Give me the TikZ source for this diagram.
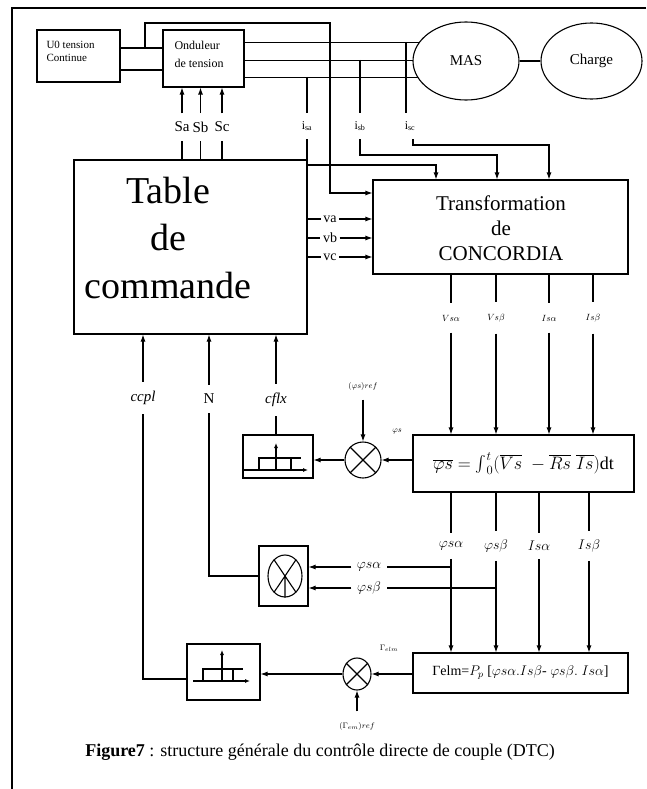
\RequirePackage{fix-cm}
\documentclass[tikz,border=0pt]{standalone}
\usepackage{fontspec}
\setmainfont{Liberation Serif}
\usetikzlibrary{arrows.meta,shapes.geometric,backgrounds,calc}
\newcommand\fsz[2]{\fontsize{#1}{#2}\selectfont}
\begin{document}
\begin{tikzpicture}[x=1pt,y=-1pt, line width=1.1pt,
  box/.style={draw, fill=white, inner sep=0pt},
  arr/.style={-{Latex[length=7pt,width=5pt]}},
  arrs/.style={-{Latex[length=5pt,width=4pt]}},
  tap/.style={inner xsep=1pt, inner ysep=8pt, font=\fsz{12}{14}},
  sl/.style={inner xsep=0pt, inner ysep=8pt, font=\fsz{15}{18}},
  vl/.style={inner xsep=2pt, inner ysep=2pt, font=\fsz{14}{16}},
  tl/.style={inner xsep=1pt, inner ysep=11pt, font=\fsz{9}{11}},
  ml/.style={inner xsep=1pt, inner ysep=8pt, font=\fsz{14}{16}},
  ml2/.style={inner xsep=5pt, inner ysep=2pt, font=\fsz{14}{16}},
  cl/.style={inner xsep=1pt, inner ysep=9pt, font=\fsz{15}{18}},
  tiny/.style={inner sep=1pt, font=\fsz{8}{9}},
  sumc/.style={draw, fill=white, ellipse, inner sep=0pt},
]
\useasboundingbox (0,0) rectangle (646,789);

% page frame
\coordinate (fTL) at (12,8);
\coordinate (fTR) at (646,8);
\coordinate (fBL) at (12,789);
\draw (fTR) -- (fTL) -- (fBL);

% top row
\node[box, minimum width=83pt, minimum height=52pt] (U0) at (78.5,56) {};
\node[inner sep=0pt, anchor=west, align=left, font=\fsz{11}{13}] (U0t) at (46,51.5) {U0 tension\\Continue};
\node[box, minimum width=81pt, minimum height=57pt] (Ond) at (203.5,58.5) {};
\node[inner sep=0pt, anchor=west, align=left, font=\fsz{12}{18}] (Ondt) at (174,54) {Onduleur\\de tension};
\node[box, ellipse, minimum width=106pt, minimum height=78pt, font=\fsz{15}{18}] (MAS) at (466,61) {MAS};
\node[box, ellipse, minimum width=101pt, minimum height=76pt, font=\fsz{15}{18}] (Charge) at (591.5,61) {\raisebox{-4pt}{Charge}};
\draw (MAS) -- (Charge);

% DC link
\draw (U0.east |- 0,48) -- (Ond.west |- 0,48);
\draw (U0.east |- 0,70) -- (Ond.west |- 0,70);
\coordinate (dcA) at (145,48);
\coordinate (dcB) at (330,23);

% main boxes
\node[box, minimum width=233pt, minimum height=174pt] (Table) at (190.5,247) {};
\node[inner sep=0pt, align=center, font=\fsz{38}{47.5}] (Tabt) at (168,238) {Table\\de\\commande};
\node[box, minimum width=255pt, minimum height=94pt] (T) at (500.5,227) {};
\node[inner sep=0pt, align=center, font=\fsz{21}{25}] (Tt) at (501,228) {Transformation\\de\\CONCORDIA};

\draw[arr] (dcA) |- (dcB) |- (T.west |- 0,193);

% three-phase lines (behind the machine)
\begin{scope}[on background layer]
  \draw (Ond.east |- 0,42) -- (MAS.center |- 0,42);
  \draw (Ond.east |- 0,60) -- (MAS.center |- 0,60);
  \draw (Ond.east |- 0,77) -- (MAS.center |- 0,77);
\end{scope}

% current taps
\coordinate (tapA) at (307,77);
\coordinate (tapB) at (360,60);
\coordinate (tapC) at (406,42);
\coordinate (startC) at (413,0);
\coordinate (bendA) at (436,165);
\coordinate (bendB) at (497,155);
\coordinate (bendC) at (549,145);
\node[tap] (isa) at (307,126) {i\textsubscript{sa}};
\node[tap] (isb) at (360,126) {i\textsubscript{sb}};
\node[tap] (isc) at (410,126) {i\textsubscript{sc}};
\draw (tapA) -- (isa.north -| tapA);
\draw (tapB) -- (isb.north -| tapB);
\draw (tapC) -- (isc.north -| tapC);
\draw[arr] (isa.south -| tapA) |- (bendA) -- (T.north -| bendA);
\draw[arr] (isb.south -| tapB) |- (bendB) -- (T.north -| bendB);
\draw[arr] (isc.south -| startC) |- (bendC) -- (T.north -| bendC);

% switching signals
\node[sl] (Sa) at (182,127) {Sa};
\node[sl] (Sb) at (200.5,127) {Sb};
\node[sl] (Sc) at (222,127) {Sc};
\foreach \s in {Sa,Sb,Sc}{
  \draw[arr] (\s) -- (Ond.south -| \s);
  \draw (Table.north -| \s) -- (\s);
}

% voltages
\node[vl] (va) at (330,219) {va};
\node[vl] (vb) at (330,238) {vb};
\node[vl] (vc) at (330,257) {vc};
\foreach \v in {va,vb,vc}{
  \draw (Table.east |- \v) -- (\v);
  \draw[arr] (\v) -- (T.west |- \v);
}

% flux estimator
\node[box, minimum width=221pt, minimum height=57pt, font=\fsz{18}{20}] (Phi) at (523.5,463.5)
  {$\overline{\varphi s}=\mathop{\vcenter{\hbox{\scalebox{1.6}{$\int$}}}}\nolimits_0^t(\overline{Vs}\;-\overline{Rs}\;\overline{Is})$dt};
\node[tl] (Va) at (451,318) {$Vs\alpha$};
\node[tl] (Vb) at (496,318) {$Vs\beta$};
\node[tl] (Ia) at (549,318) {$Is\alpha$};
\node[tl] (Ib) at (593,318) {$Is\beta$};
\foreach \l in {Va,Vb,Ia,Ib}{
  \draw (T.south -| \l) -- (\l);
  \draw[arr] (\l) -- (Phi.north -| \l);
}

% flux loop
\node[sumc, minimum width=36pt, minimum height=36pt] (Cf) at (363,460) {};
\draw (Cf.45) -- (Cf.225) (Cf.135) -- (Cf.315);
\node[tiny, inner ysep=9pt] (phiref) at (363,386) {$(\varphi s)ref$};
\node[tiny] (phis) at (397,432) {$\varphi s$};
\draw[arr] (phiref) -- (Cf);
\draw[arr] (Phi.west |- Cf) -- (Cf);
\node[box, minimum width=70pt, minimum height=43pt] (Hf) at (278,456.5) {};
\draw[arr] (Cf) -- (Hf.east |- Cf);
\draw[arrs] ($(Hf.center)+(-35,13.5)$) -- ++(65,0);
\draw ($(Hf.center)+(-19,13.5)$) -- ++(0,-12) -- ++(42,0);
\draw ($(Hf.center)+(13,1.5)$) -- ++(0,12);
\draw[arrs] ($(Hf.center)+(-2,13.5)$) -- ++(0,-27);

% controller inputs
\node[cl] (ccpl) at (143,398) {\textit{ccpl}};
\node[cl] (N) at (209,399) {N};
\node[cl] (cflx) at (276,400) {\textit{cflx}};
\foreach \c in {ccpl,N,cflx}{
  \draw[arr] (\c) -- (Table.south -| \c);
}
\draw (Hf.north -| cflx) -- (cflx);

% flux components
\node[ml] (Fa) at (451,546) {$\varphi s\alpha$};
\node[ml] (Fb) at (496,546) {$\varphi s\beta$};
\node[ml] (Ja) at (539,546) {$Is\alpha$};
\node[ml] (Jb) at (589,546) {$Is\beta$};
\node[box, minimum width=215pt, minimum height=40pt, font=\fsz{14}{16}] (G) at (520.5,673)
  {Γelm=$P_p$ [$\varphi s\alpha.Is\beta$- $\varphi s\beta.\ Is\alpha$]};
\foreach \l in {Fa,Fb,Ja,Jb}{
  \draw (Phi.south -| \l) -- (\l);
  \draw[arr] (\l) -- (G.north -| \l);
}

% sector detection
\node[box, minimum width=49pt, minimum height=60pt] (Sec) at (283.5,576) {};
\node[draw, ellipse, minimum width=34pt, minimum height=42pt, inner sep=0pt] (SecC) at (285,576) {};
\draw (SecC.124) -- (SecC.304) (SecC.56) -- (SecC.236) (SecC.center) -- (SecC.south);
\coordinate (brA) at (451,567);
\coordinate (brB) at (496,588);
\node[ml2] (pa) at (369,567) {$\varphi s\alpha$};
\node[ml2] (pb) at (369,588) {$\varphi s\beta$};
\draw (brA) -- (pa);
\draw (brB) -- (pb);
\draw[arr] (pa) -- (Sec.east |- pa);
\draw[arr] (pb) -- (Sec.east |- pb);
\draw (N) |- (Sec.west);

% torque loop
\node[sumc, minimum width=28pt, minimum height=32pt] (Cc) at (357,674) {};
\draw (Cc.45) -- (Cc.225) (Cc.135) -- (Cc.315);
\node[tiny] (gelm) at (389,648) {$\Gamma_{elm}$};
\node[tiny, inner ysep=10pt] (gref) at (357,726) {$(\Gamma_{em})ref$};
\draw[arr] (G.west |- Cc) -- (Cc);
\draw[arr] (gref) -- (Cc);
\node[box, minimum width=73pt, minimum height=56pt] (Hc) at (223.5,672) {};
\draw[arr] (Cc) -- (Hc.east |- Cc);
\draw[arrs] ($(Hc.center)+(-30.5,9)$) -- ++(57,0);
\draw ($(Hc.center)+(-20.5,9)$) -- ++(0,-12) -- ++(40,0);
\draw ($(Hc.center)+(9.5,-3)$) -- ++(0,12);
\draw[arrs] ($(Hc.center)+(-1.5,9)$) -- ++(0,-31);
\draw (ccpl) |- ($(Hc.west)+(0,7)$);

% caption
\node[inner sep=0pt, font=\fsz{18}{22}] (cap) at (320,752)
  {\textbf{Figure7} : structure générale du contrôle directe de couple (DTC)};
\end{tikzpicture}
\end{document}
